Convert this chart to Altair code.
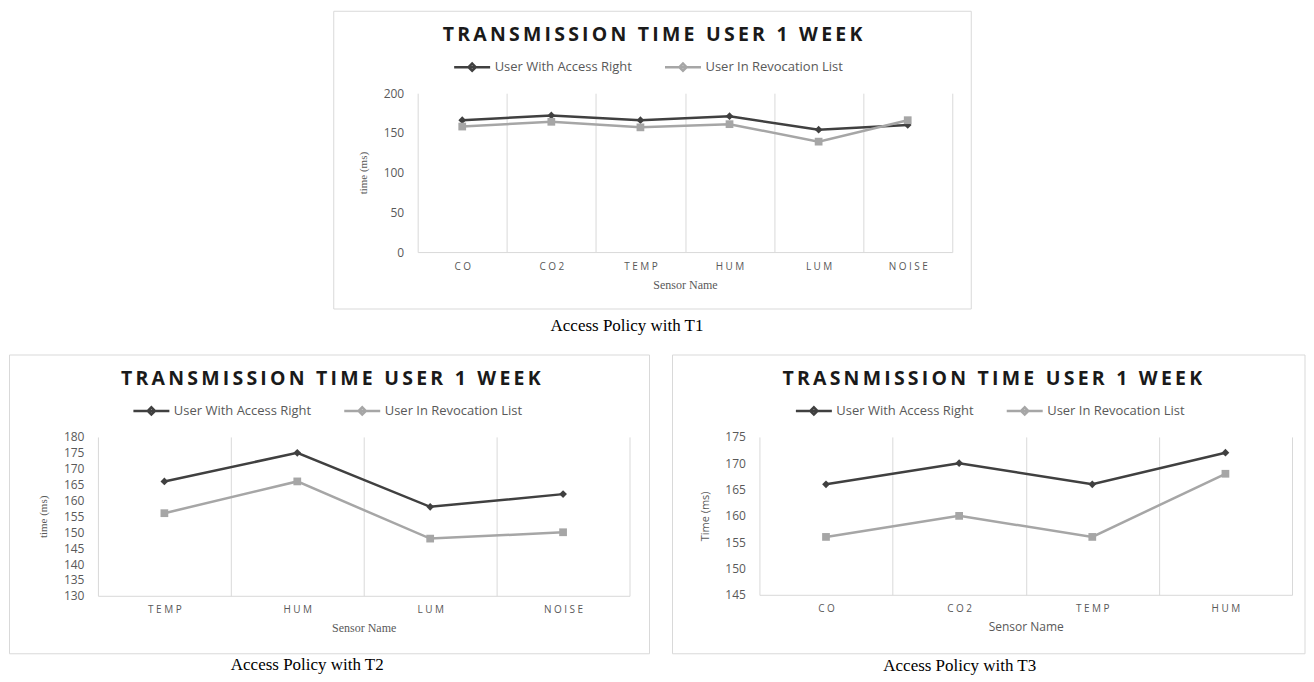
import altair as alt
import pandas as pd

# ---------------- data ----------------
series_names = ["User With Access Right", "User In Revocation List"]
series_colors = ["#404040", "#a6a6a6"]
series_shapes = ["diamond", "square"]

t1_sensors = ["CO", "CO2", "TEMP", "HUM", "LUM", "NOISE"]
t1_access = [166, 172, 166, 171, 154, 160]
t1_revoked = [158, 164, 157, 161, 139, 166]

t2_sensors = ["TEMP", "HUM", "LUM", "NOISE"]
t2_access = [166, 175, 158, 162]
t2_revoked = [156, 166, 148, 150]

t3_sensors = ["CO", "CO2", "TEMP", "HUM"]
t3_access = [166, 170, 166, 172]
t3_revoked = [156, 160, 156, 168]

headings = ["TRANSMISSION TIME USER 1 WEEK", "TRANSMISSION TIME USER 1 WEEK",
            "TRASNMISSION TIME USER 1 WEEK"]
captions = ["Access Policy with T1", "Access Policy with T2", "Access Policy with T3"]
y_titles = ["time (ms)", "time (ms)", "Time (ms)"]
x_title = "Sensor Name"
y_domains = [[0, 200], [130, 180], [145, 175]]
y_steps = [50, 5, 5]

GRID = "#d9d9d9"
TXT = "#595959"
LEGEND_SYMBOL = "M-1,0L1,0M-0.2,0L0,-0.2L0.2,0L0,0.2Z"


def panel(sensors, access, revoked, heading, caption, ytitle, ydom, ystep,
          w, h, frame, head_x, cap_x, cap_y, leg_x, serif):
    rows = []
    for s, a, r in zip(sensors, access, revoked):
        rows.append({"sensor": s, "series": series_names[0], "value": a})
        rows.append({"sensor": s, "series": series_names[1], "value": r})
    df = pd.DataFrame(rows)
    tfont = "Liberation Serif" if serif else "Open Sans"

    x = alt.X(
        "sensor:N", sort=sensors, bandPosition=0.5,
        scale=alt.Scale(type="band", paddingInner=0, paddingOuter=0),
        axis=alt.Axis(
            title=x_title, tickBand="extent", grid=True, gridColor=GRID, gridWidth=1,
            ticks=False, tickSize=0, domainColor=GRID, domainWidth=1, labelAngle=0,
            labelFont="Open Sans", labelFontSize=10, labelColor=TXT, labelPadding=9,
            labelExpr="join(split(datum.label, ''), '\u2005')",
            titleFont=tfont, titleFontSize=12, titleFontWeight="normal", titleColor=TXT,
            titleX=w / 2, titleY=32, titleAlign="center", titleBaseline="middle",
        ),
    )
    y = alt.Y(
        "value:Q",
        scale=alt.Scale(domain=ydom, nice=False, zero=False),
        axis=alt.Axis(
            title=ytitle, values=list(range(ydom[0], ydom[1] + 1, ystep)),
            grid=False, domain=False, ticks=False, tickSize=0,
            labelFont="Open Sans", labelFontSize=12, labelColor=TXT, labelPadding=14,
            titleFont=tfont, titleFontSize=11, titleFontWeight="normal", titleColor=TXT,
            titleX=-54, titleY=h / 2, titleAngle=-90, titleAlign="center",
            titleBaseline="middle",
        ),
    )
    color = alt.Color(
        "series:N",
        scale=alt.Scale(domain=series_names, range=series_colors),
        legend=alt.Legend(
            orient="none", legendX=leg_x, legendY=-46, direction="horizontal", title=None,
            symbolType=LEGEND_SYMBOL, symbolSize=1296, symbolStrokeWidth=2.5,
            labelFont="Open Sans", labelFontSize=13, labelColor=TXT, labelOffset=3,
            columnPadding=27, padding=0,
        ),
    )

    base = alt.Chart(df)
    lines = base.mark_line(strokeWidth=2.5).encode(x=x, y=y, color=color)
    pts = []
    for name, col, shp in zip(series_names, series_colors, series_shapes):
        pts.append(
            base.transform_filter(alt.datum.series == name)
            .mark_point(filled=True, shape=shp, size=60, color=col, opacity=1)
            .encode(x=x, y=y)
        )

    one = pd.DataFrame({"t": [heading], "c": [caption]})
    frame_rect = alt.Chart(one).mark_rect(
        fill="transparent", stroke=GRID, strokeWidth=1
    ).encode(
        x=alt.value(frame[0]), x2=alt.value(frame[1]),
        y=alt.value(frame[2]), y2=alt.value(frame[3]),
    )
    head = alt.Chart(one).transform_calculate(
        tracked="join(split(datum.t, ''), '\u2009')"
    ).mark_text(
        font="Open Sans", fontSize=19.5, fontWeight="bold", color="#1a1a1a",
        align="center", baseline="middle",
    ).encode(x=alt.value(head_x), y=alt.value(-58), text="tracked:N")
    cap = alt.Chart(one).mark_text(
        font="Liberation Serif", fontSize=17, color="#000000",
        align="left", baseline="middle",
    ).encode(x=alt.value(cap_x), y=alt.value(cap_y), text="c:N")

    layers = [frame_rect, lines] + pts + [head, cap]
    return alt.layer(*layers).properties(width=w, height=h)


top = panel(t1_sensors, t1_access, t1_revoked, headings[0], captions[0], y_titles[0],
            y_domains[0], y_steps[0], 535, 159, (-84, 554, -82, 216), 235, 133, 233, 35,
            True)
left = panel(t2_sensors, t2_access, t2_revoked, headings[1], captions[1], y_titles[1],
             y_domains[1], y_steps[1], 532, 159, (-88.5, 552, -82, 217), 233, 133, 228, 34,
             True)
right = panel(t3_sensors, t3_access, t3_revoked, headings[2], captions[2], y_titles[2],
              y_domains[2], y_steps[2], 533, 158, (-87, 546, -82, 217), 233, 124, 229, 35,
              False)

spacer = alt.Chart(pd.DataFrame({"t": [0]})).mark_rect(opacity=0).encode(
    x=alt.value(0), x2=alt.value(1), y=alt.value(0), y2=alt.value(1)
).properties(width=300, height=159)

top_row = alt.hconcat(spacer, top, spacing=20, bounds="flush").resolve_scale(
    x="independent", y="independent", color="independent"
).resolve_legend(color="independent")

bottom = alt.hconcat(left, right, spacing=130, bounds="flush").resolve_scale(
    x="independent", y="independent", color="independent"
).resolve_legend(color="independent")

chart = alt.vconcat(top_row, bottom, spacing=344, bounds="flush").resolve_scale(
    x="independent", y="independent", color="independent"
).resolve_legend(color="independent").properties(
    padding={"left": 0, "top": 2, "right": 0, "bottom": 0}
).configure_view(stroke="transparent")

chart.save("out.html", embed_options={"renderer": "svg", "actions": False})
